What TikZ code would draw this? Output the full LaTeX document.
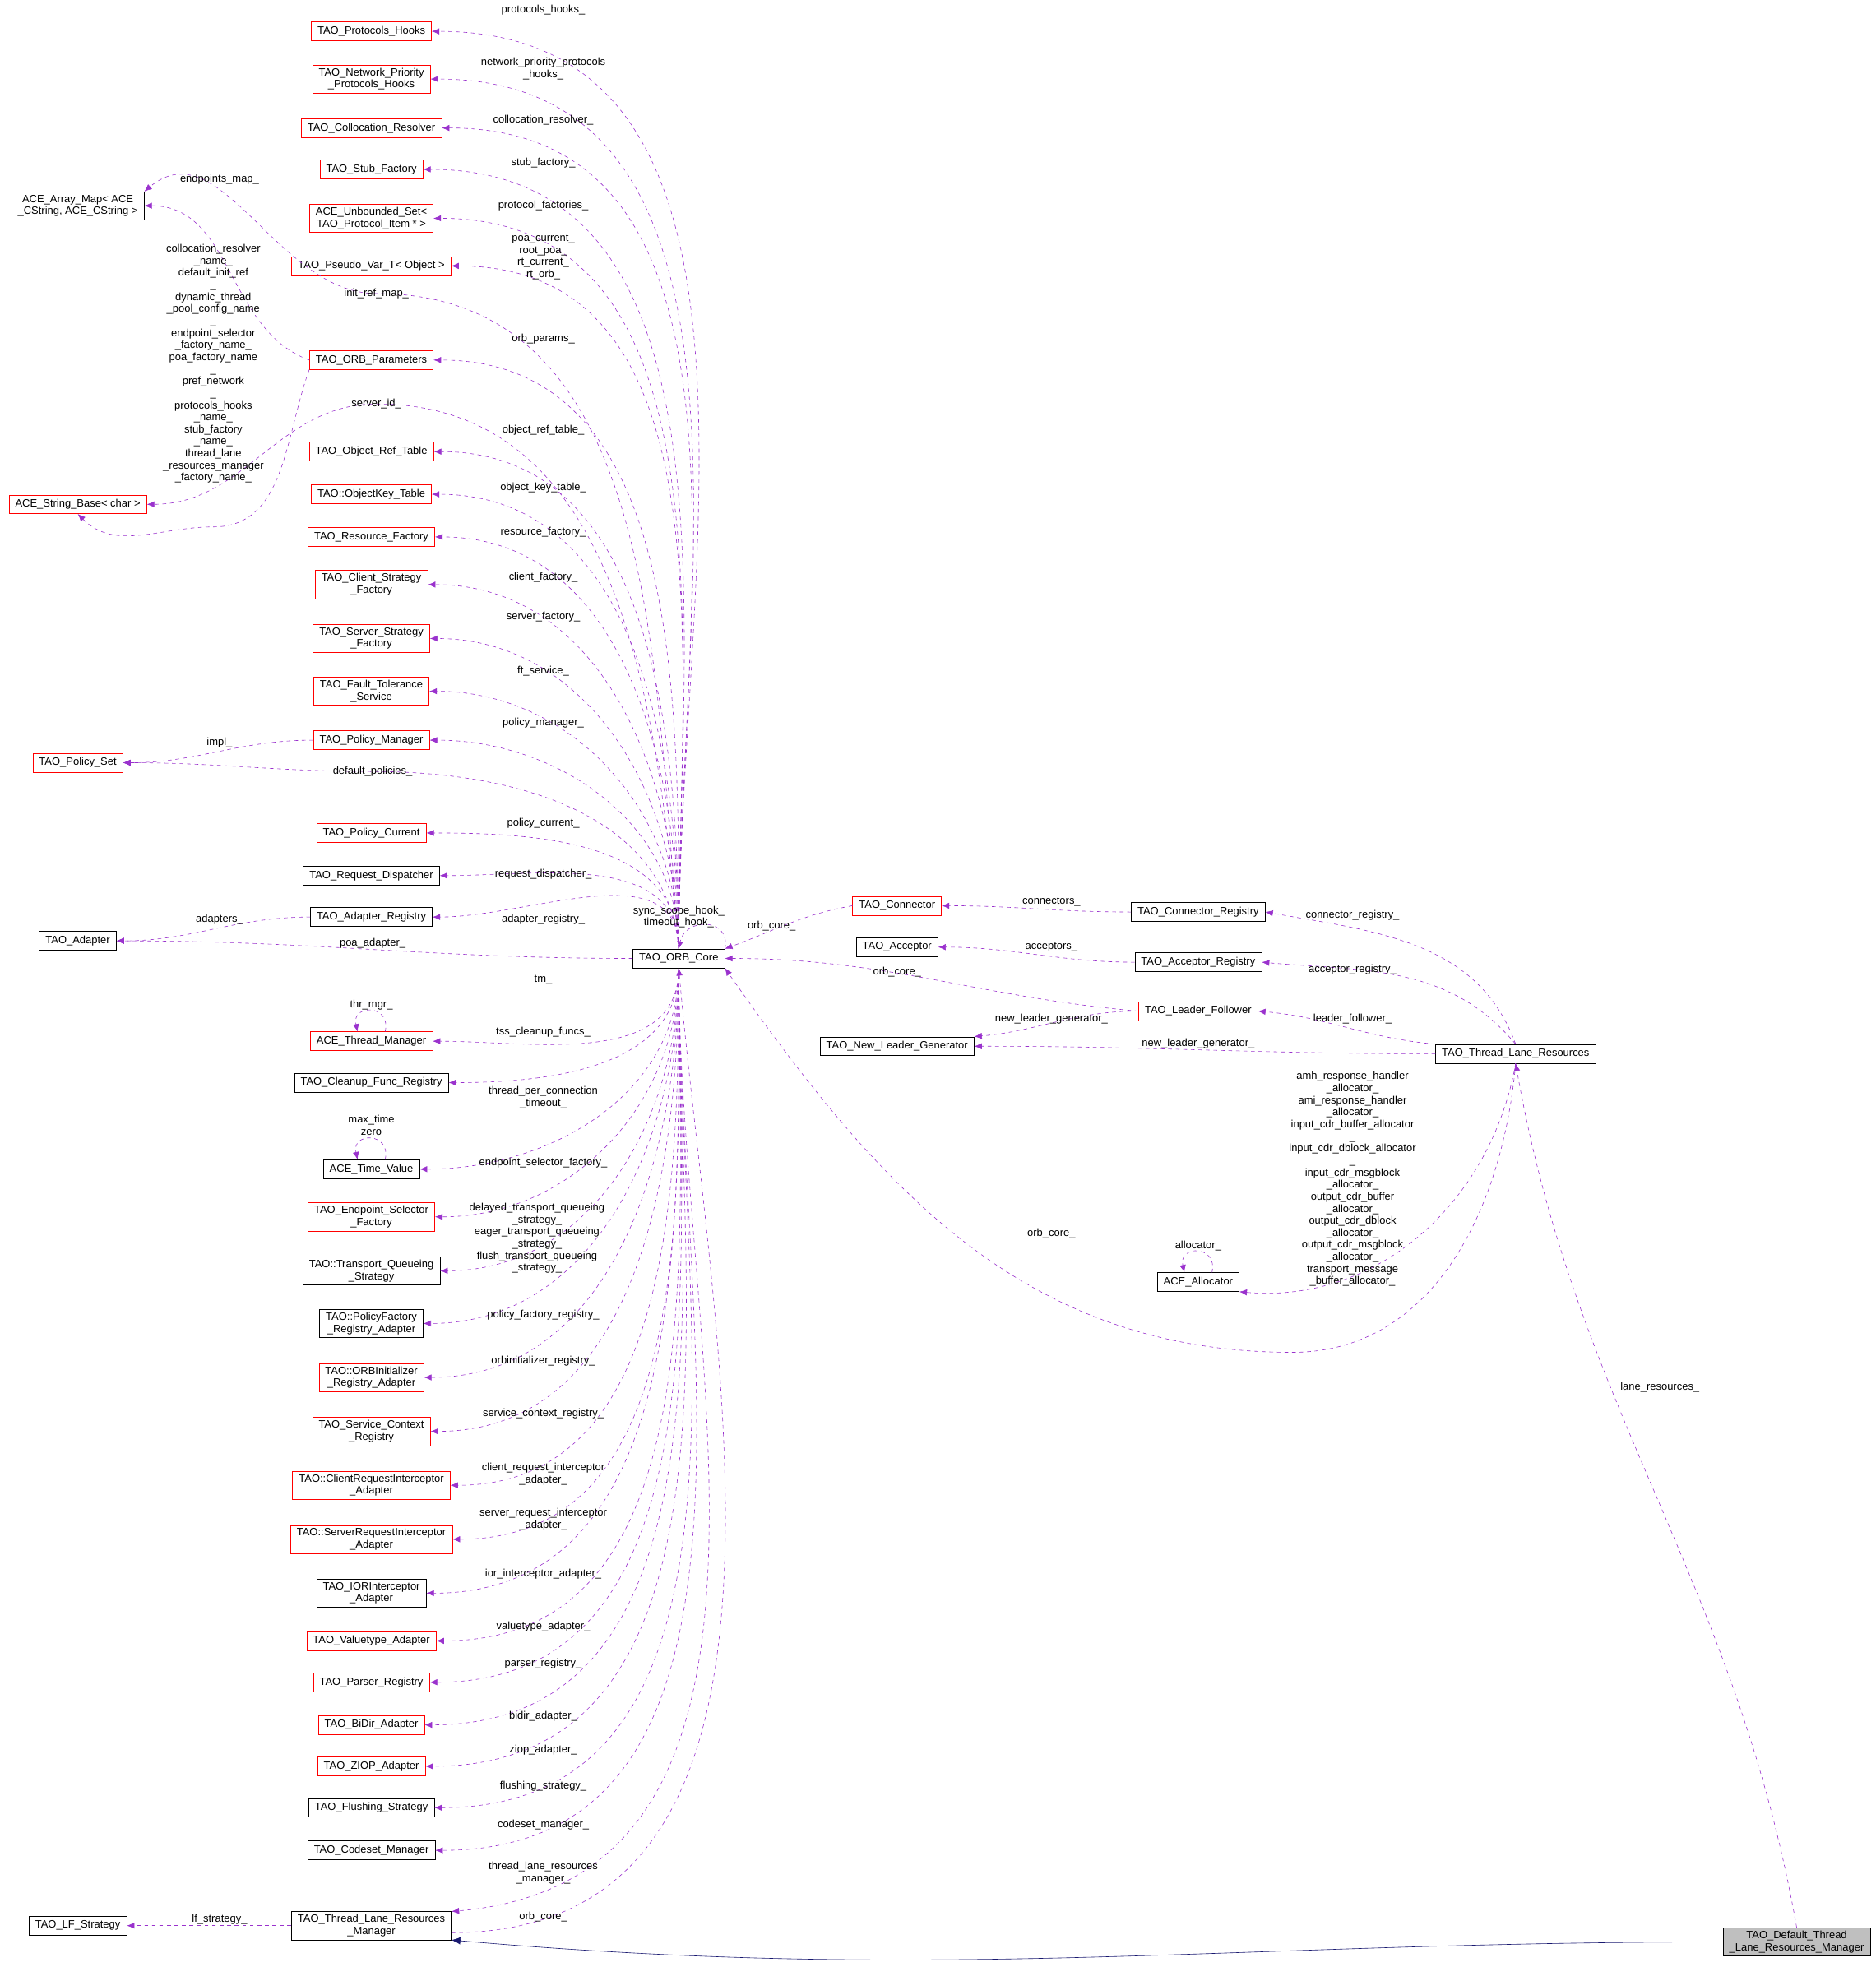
\documentclass[tikz,border=0pt]{standalone}
\usepackage{fontspec}
\setmainfont{Liberation Sans}
\usetikzlibrary{arrows.meta}
\definecolor{eg}{HTML}{9A32CD}
\definecolor{nv}{HTML}{191970}
\tikzset{
 bx/.style={draw=black,fill=white,font=\fontsize{8.5}{9.6}\selectfont,align=center,inner xsep=5pt,inner ysep=2.5pt,minimum height=15pt},
 rb/.style={bx,draw=red},
 lb/.style={font=\fontsize{8.5}{9.6}\selectfont,align=center,inner sep=0pt},
 ed/.style={draw=eg,dashed,-{Latex[length=6pt,width=5pt]}},
}
\begin{document}
\begin{tikzpicture}[x=1pt,y=-1pt]
\useasboundingbox (0,0) rectangle (1495,1568);
% left column
\node[rb] (n1) at (296,25) {TAO\_Protocols\_Hooks};
\node[rb] (n2) at (296,63) {TAO\_Network\_Priority\\\_Protocols\_Hooks};
\node[rb] (n3) at (296,102) {TAO\_Collocation\_Resolver};
\node[rb] (n4) at (296,135) {TAO\_Stub\_Factory};
\node[rb] (n5) at (296,174) {ACE\_Unbounded\_Set\textless{}\\TAO\_Protocol\_Item * \textgreater{}};
\node[rb] (n6) at (296,212) {TAO\_Pseudo\_Var\_T\textless{} Object \textgreater{}};
\node[rb] (n7) at (296,287) {TAO\_ORB\_Parameters};
\node[rb] (n8) at (296,360) {TAO\_Object\_Ref\_Table};
\node[rb] (n9) at (296,394) {TAO::ObjectKey\_Table};
\node[rb] (n10) at (296,428) {TAO\_Resource\_Factory};
\node[rb] (n11) at (296,466) {TAO\_Client\_Strategy\\\_Factory};
\node[rb] (n12) at (296,509) {TAO\_Server\_Strategy\\\_Factory};
\node[rb] (n13) at (296,551) {TAO\_Fault\_Tolerance\\\_Service};
\node[rb] (n14) at (296,590) {TAO\_Policy\_Manager};
\node[rb] (n15) at (296,664) {TAO\_Policy\_Current};
\node[bx] (n16) at (296,698) {TAO\_Request\_Dispatcher};
\node[bx] (n17) at (296,731) {TAO\_Adapter\_Registry};
\node[rb] (n18) at (296,830) {ACE\_Thread\_Manager};
\node[bx] (n19) at (296,863) {TAO\_Cleanup\_Func\_Registry};
\node[bx] (n20) at (296,932) {ACE\_Time\_Value};
\node[rb] (n21) at (296,970) {TAO\_Endpoint\_Selector\\\_Factory};
\node[bx] (n22) at (296,1013) {TAO::Transport\_Queueing\\\_Strategy};
\node[bx] (n23) at (296,1055) {TAO::PolicyFactory\\\_Registry\_Adapter};
\node[rb] (n24) at (296,1098) {TAO::ORBInitializer\\\_Registry\_Adapter};
\node[rb] (n25) at (296,1141) {TAO\_Service\_Context\\\_Registry};
\node[rb] (n26) at (296,1184) {TAO::ClientRequestInterceptor\\\_Adapter};
\node[rb] (n27) at (296,1227) {TAO::ServerRequestInterceptor\\\_Adapter};
\node[bx] (n28) at (296,1270) {TAO\_IORInterceptor\\\_Adapter};
\node[rb] (n29) at (296,1308) {TAO\_Valuetype\_Adapter};
\node[rb] (n30) at (296,1341) {TAO\_Parser\_Registry};
\node[rb] (n31) at (296,1375) {TAO\_BiDir\_Adapter};
\node[rb] (n32) at (296,1408) {TAO\_ZIOP\_Adapter};
\node[bx] (n33) at (296,1441) {TAO\_Flushing\_Strategy};
\node[bx] (n34) at (296,1475) {TAO\_Codeset\_Manager};
\node[bx] (tlrm) at (296,1535) {TAO\_Thread\_Lane\_Resources\\\_Manager};
% far left
\node[bx] (am) at (62,164) {ACE\_Array\_Map\textless{} ACE\\\_CString, ACE\_CString \textgreater{}};
\node[rb] (sb) at (62,402) {ACE\_String\_Base\textless{} char \textgreater{}};
\node[rb] (ps) at (62,608) {TAO\_Policy\_Set};
\node[bx] (ad) at (62,750) {TAO\_Adapter};
\node[bx] (lf) at (62,1535) {TAO\_LF\_Strategy};
% center / right
\node[bx] (core) at (541,764) {TAO\_ORB\_Core};
\node[rb] (con) at (715,722) {TAO\_Connector};
\node[bx] (acc) at (715,755) {TAO\_Acceptor};
\node[bx] (nlg) at (715,834) {TAO\_New\_Leader\_Generator};
\node[bx] (cr) at (955,727) {TAO\_Connector\_Registry};
\node[bx] (ar) at (955,767) {TAO\_Acceptor\_Registry};
\node[rb] (lfo) at (955,806) {TAO\_Leader\_Follower};
\node[bx] (tlr) at (1208,840) {TAO\_Thread\_Lane\_Resources};
\node[bx] (al) at (955,1022) {ACE\_Allocator};
\node[bx,fill=black!25] (dt) at (1432,1548) {TAO\_Default\_Thread\\\_Lane\_Resources\_Manager};
% edges from core
\foreach \n in {n1,n2,n3,n4,n5,n6,n7,n8,n9,n10,n11,n12,n13,n14,n15,n16,n17}
  \draw[ed] (core.north) to[out=90,in=0] (\n.east);
\foreach \n in {n18,n19,n20,n21,n22,n23,n24,n25,n26,n27,n28,n29,n30,n31,n32,n33,n34}
  \draw[ed] (core.south) to[out=-90,in=0] (\n.east);
\draw[ed] (core.south) to[out=-90,in=5] (tlrm.10);
\draw[ed] (tlrm.-5) to[out=0,in=-85] (core.south);
% far-left edges
\coordinate (c1) at (300,234);
\draw[ed] (core.north) to[out=95,in=0] (c1) to[out=180,in=40] (am.north east);
\coordinate (c2) at (300,322);
\draw[ed] (core.north) to[out=95,in=0] (c2) to[out=180,in=0] (sb.east);
\coordinate (c3) at (297,615);
\draw[ed] (core.north) to[out=95,in=0] (c3) to[out=180,in=0] (ps.east);
\draw[ed] (core.west) to[out=180,in=0] (ad.east);
\draw[ed] (n7.west) to[out=160,in=0] (am.east);
\coordinate (c4) at (170,420);
\draw[ed] (n7.south west) to[out=-110,in=0] (c4) to[out=180,in=-45] (sb.south);
\draw[ed] (n14.west) to[out=180,in=0] (ps.east);
\draw[ed] (n17.west) to[out=180,in=0] (ad.east);
\draw[ed] (tlrm.west) to[out=180,in=0] (lf.east);
% self loops
\draw[ed] (core.north east) .. controls +(5,-25) and +(5,-25) .. (core.north);
\draw[ed] (n18.35) .. controls +(5,-22) and +(-5,-22) .. (n18.145);
\draw[ed] (n20.35) .. controls +(5,-22) and +(-5,-22) .. (n20.145);
\draw[ed] (al.35) .. controls +(5,-22) and +(-5,-22) .. (al.145);
% right side
\draw[ed] (con.west) to[out=190,in=20] (core.north east);
\draw[ed] (cr.west) to[out=180,in=0] (con.east);
\draw[ed] (ar.west) to[out=180,in=0] (acc.east);
\draw[ed] (lfo.west) to[out=175,in=0] (core.east);
\draw[ed] (lfo.west) to[out=180,in=5] (nlg.north east);
\draw[ed] (tlr.west) to[out=180,in=0] (nlg.east);
\draw[ed] (tlr.north) to[out=110,in=-10] (cr.east);
\draw[ed] (tlr.north) to[out=130,in=-5] (ar.east);
\draw[ed] (tlr.north west) to[out=175,in=-5] (lfo.east);
\coordinate (c5) at (1030,1078);
\draw[ed] (tlr.south) to[out=-95,in=0] (c5) to[out=180,in=-55] (core.south east);
\draw[ed] (tlr.south) to[out=-100,in=-5] (al.south east);
\draw[ed] (dt.north) to[out=100,in=-80] (tlr.south);
\draw[nv,-{Latex[length=7pt,width=6pt]}] (dt.west) to[out=180,in=-5] (tlrm.south east);
% labels
\node[lb] at (433,8) {protocols\_hooks\_};
\node[lb] at (433,55) {network\_priority\_protocols\\\_hooks\_};
\node[lb] at (433,96) {collocation\_resolver\_};
\node[lb] at (433,130) {stub\_factory\_};
\node[lb] at (433,164) {protocol\_factories\_};
\node[lb] at (433,205) {poa\_current\_\\root\_poa\_\\rt\_current\_\\rt\_orb\_};
\node[lb] at (300,234) {init\_ref\_map\_};
\node[lb] at (433,270) {orb\_params\_};
\node[lb] at (300,322) {server\_id\_};
\node[lb] at (433,343) {object\_ref\_table\_};
\node[lb] at (433,389) {object\_key\_table\_};
\node[lb] at (433,424) {resource\_factory\_};
\node[lb] at (433,460) {client\_factory\_};
\node[lb] at (433,492) {server\_factory\_};
\node[lb] at (433,535) {ft\_service\_};
\node[lb] at (433,576) {policy\_manager\_};
\node[lb] at (297,615) {default\_policies\_};
\node[lb] at (433,656) {policy\_current\_};
\node[lb] at (433,697) {request\_dispatcher\_};
\node[lb] at (433,733) {adapter\_registry\_};
\node[lb] at (297,752) {poa\_adapter\_};
\node[lb] at (541,731) {sync\_scope\_hook\_\\timeout\_hook\_};
\node[lb] at (433,781) {tm\_};
\node[lb] at (433,823) {tss\_cleanup\_funcs\_};
\node[lb] at (433,875) {thread\_per\_connection\\\_timeout\_};
\node[lb] at (433,927) {endpoint\_selector\_factory\_};
\node[lb] at (428,987) {delayed\_transport\_queueing\\\_strategy\_\\eager\_transport\_queueing\\\_strategy\_\\flush\_transport\_queueing\\\_strategy\_};
\node[lb] at (433,1048) {policy\_factory\_registry\_};
\node[lb] at (433,1085) {orbinitializer\_registry\_};
\node[lb] at (433,1127) {service\_context\_registry\_};
\node[lb] at (433,1175) {client\_request\_interceptor\\\_adapter\_};
\node[lb] at (433,1211) {server\_request\_interceptor\\\_adapter\_};
\node[lb] at (433,1255) {ior\_interceptor\_adapter\_};
\node[lb] at (433,1297) {valuetype\_adapter\_};
\node[lb] at (433,1326) {parser\_registry\_};
\node[lb] at (433,1368) {bidir\_adapter\_};
\node[lb] at (433,1395) {ziop\_adapter\_};
\node[lb] at (433,1424) {flushing\_strategy\_};
\node[lb] at (433,1455) {codeset\_manager\_};
\node[lb] at (433,1493) {thread\_lane\_resources\\\_manager\_};
\node[lb] at (433,1528) {orb\_core\_};
\node[lb] at (175,1530) {lf\_strategy\_};
\node[lb] at (175,143) {endpoints\_map\_};
\node[lb] at (170,290) {collocation\_resolver\\\_name\_\\default\_init\_ref\\\_\\dynamic\_thread\\\_pool\_config\_name\\\_\\endpoint\_selector\\\_factory\_name\_\\poa\_factory\_name\\\_\\pref\_network\\\_\\protocols\_hooks\\\_name\_\\stub\_factory\\\_name\_\\thread\_lane\\\_resources\_manager\\\_factory\_name\_};
\node[lb] at (175,592) {impl\_};
\node[lb] at (175,733) {adapters\_};
\node[lb] at (296,801) {thr\_mgr\_};
\node[lb] at (296,897) {max\_time\\zero};
\node[lb] at (615,738) {orb\_core\_};
\node[lb] at (838,719) {connectors\_};
\node[lb] at (838,755) {acceptors\_};
\node[lb] at (715,775) {orb\_core\_};
\node[lb] at (838,812) {new\_leader\_generator\_};
\node[lb] at (955,832) {new\_leader\_generator\_};
\node[lb] at (1078,730) {connector\_registry\_};
\node[lb] at (1078,773) {acceptor\_registry\_};
\node[lb] at (1078,812) {leader\_follower\_};
\node[lb] at (838,983) {orb\_core\_};
\node[lb] at (1078,940) {amh\_response\_handler\\\_allocator\_\\ami\_response\_handler\\\_allocator\_\\input\_cdr\_buffer\_allocator\\\_\\input\_cdr\_dblock\_allocator\\\_\\input\_cdr\_msgblock\\\_allocator\_\\output\_cdr\_buffer\\\_allocator\_\\output\_cdr\_dblock\\\_allocator\_\\output\_cdr\_msgblock\\\_allocator\_\\transport\_message\\\_buffer\_allocator\_};
\node[lb] at (955,993) {allocator\_};
\node[lb] at (1323,1106) {lane\_resources\_};
\end{tikzpicture}
\end{document}
